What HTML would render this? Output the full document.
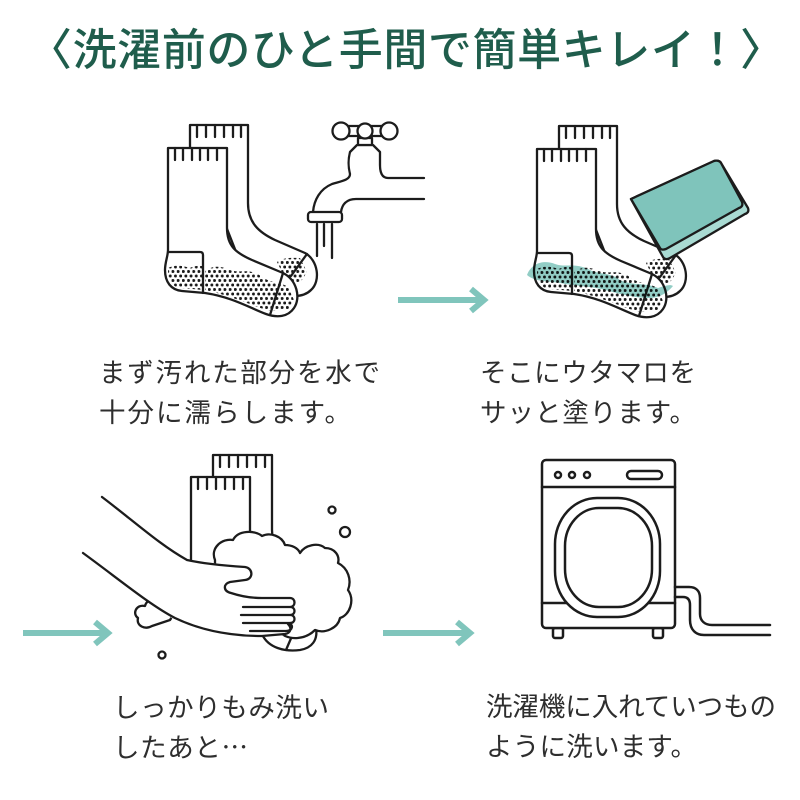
<!DOCTYPE html>
<html><head><meta charset="utf-8">
<style>
html,body{margin:0;padding:0;background:#fff;}
svg{display:block;}
text{font-family:"Liberation Sans","Noto Sans CJK JP",sans-serif;}
</style></head>
<body>
<svg width="800" height="800" viewBox="0 0 800 800" xmlns="http://www.w3.org/2000/svg">
<defs>
<pattern id="dots" width="5.2" height="9" patternUnits="userSpaceOnUse">
<circle cx="1.3" cy="1.5" r="1.5" fill="#1a1a1a"/>
<circle cx="3.9" cy="6" r="1.5" fill="#1a1a1a"/>
</pattern>
<g id="socks" stroke="#1c1c1c" stroke-width="2.3" stroke-linejoin="round" stroke-linecap="round">
 <path d="M190,148 V125 H248 V203 C248,222 258,232 275,240 L305,253 C318,260 321,281 311,290 C305,296 297,297 287,295 L240,262 L200,160 L190,148" fill="#fff"/>
 <path d="M197,125 V137 M206,125 V137 M215,125 V137 M224,125 V137 M233,125 V137 M241,125 V137" fill="none"/>
 <path d="M277,262 C284,257 292,258 300,258 L307,272 L300,283 L285,278 Z" fill="url(#dots)" stroke="none"/>
 <path d="M307,254 L291,276" fill="none"/>
 <path d="M168,148 H227 V228 C227,246 236,253 252,260 L283,273 C297,280 301,298 294,308 C288,317 277,318 266,314 C250,308 232,297 205,293 L182,291 C171,290 165,282 165,270 C165,262 168,256 168,250 Z" fill="#fff"/>
 <path d="M175,148 V160 M183,148 V160 M192,148 V160 M200,148 V160 M208,148 V160 M217,148 V160" fill="none"/>
 <path d="M168,268 C175,264 185,266 190,268 C195,265 200,266 203,266 L203,290 L182,288 C172,287 168,282 168,270 Z" fill="url(#dots)" stroke="none"/>
 <path d="M205,271 C213,265 222,266 230,270 C238,273 245,270 252,272 C260,274 262,278 270,281 C276,283 282,283 288,287 L294,300 L288,310 L270,311 C250,305 232,296 205,290 Z" fill="url(#dots)" stroke="none"/>
 <path d="M168,252 H200 Q203,252 203,255 V293" fill="none"/>
 <path d="M283,273 L270,315" fill="none"/>
</g>
</defs>

<!-- Title -->
<text x="28" y="65" font-size="44" font-weight="500" fill="#1f5d4c" textLength="756" lengthAdjust="spacing">〈洗濯前のひと手間で簡単キレイ！〉</text>

<!-- Panel 1 -->
<use href="#socks"/>
<g stroke="#1c1c1c" stroke-width="2.3" fill="#fff" stroke-linejoin="round" stroke-linecap="round">
 <path d="M424,178 H388 C381,178 380,170 380,165 L380,152 L373,145 H357 L350,152 C348,160 348,166 350,174 C350,180 342,181 332,184 C320,189 314,200 313,212 M424,199 H356 C346,199 342,205 341,212" fill="none"/>
 <rect x="358" y="138" width="14" height="7" fill="#fff"/>
 <path d="M348,126 H382 M348,136 H382" fill="none"/>
 <circle cx="341" cy="131" r="8.5"/>
 <circle cx="365" cy="131" r="7.5"/>
 <circle cx="389" cy="131" r="8.5"/>
 <rect x="308" y="212" width="34" height="10" rx="3"/>
 <path d="M317,224 V256 M324,224 V246 M332,224 V258" fill="none"/>
</g>

<!-- Panel 2 -->
<use href="#socks" transform="translate(369,1)"/>
<path d="M527,275 C532,262 545,260 555,264 C565,268 575,262 590,270 C600,275 610,272 620,280 C632,286 645,282 658,288 C665,286 670,284 673,286 C668,292 660,298 650,298 C635,298 620,294 605,290 C590,286 575,286 560,283 C548,281 535,282 527,275 Z" fill="#7fc4bb" opacity="0.85" style="mix-blend-mode:multiply"/>
<g stroke="#1c1c1c" stroke-width="2.3" stroke-linejoin="round">
 <path d="M631,199 L714,161 C717,160 720,161 721,163 L748,208 C749,211 748,213 745,214 L670,258 C667,260 664,259 663,257 Z" fill="#a9dbd3"/>
 <path d="M631,199 L714,161 C717,160 720,161 721,163 L742,202 C743,205 742,207 739,208 L666,249 C663,250 661,250 660,248 Z" fill="#7fc4bb"/>
</g>

<!-- Arrows -->
<g stroke="#80c5bc" stroke-width="6" fill="none" stroke-linecap="butt" stroke-linejoin="miter">
 <path d="M398,300 H483"/><path d="M471,289 L484,300 L471,311"/>
 <path d="M23,633 H107"/><path d="M95,622 L108,633 L95,644"/>
 <path d="M383,633 H469"/><path d="M457,622 L470,633 L457,644"/>
</g>

<!-- Panel 3 -->
<g stroke="#1c1c1c" stroke-width="2.3" stroke-linejoin="round" stroke-linecap="round">
 <path d="M213,560 V455 H272 V530 C272,540 276,548 290,560 L260,580 Z" fill="#fff"/>
 <path d="M220,455 V467 M229,455 V467 M238,455 V467 M247,455 V467 M256,455 V467 M265,455 V467" fill="none"/>
 <path d="M191,570 V477 H250 V570" fill="#fff"/>
 <path d="M198,477 V489 M207,477 V489 M216,477 V489 M225,477 V489 M234,477 V489 M243,477 V489" fill="none"/>
 <path d="M262,634 C268,648 285,652 300,650 C312,648 318,640 316,628 L290,630 Z" fill="#fff"/>
 <path d="M292,636 L286,650" fill="none"/>
 <path d="M215,560 C210,548 222,538 233,540 C238,530 255,530 262,536 C270,532 282,536 285,545 C292,545 298,548 300,553 C305,545 318,542 325,548 C335,548 340,556 338,563 C348,568 352,580 348,590 C355,600 350,615 340,618 C338,628 325,634 315,630 C305,640 290,640 282,634 L250,630 L215,600 Z" fill="#fff"/>
 <path d="M152,626 C145,630 136,626 138,618 C132,614 136,604 145,606 C147,598 158,597 162,604 C170,603 176,612 170,620 Z" fill="#fff"/>
 <path d="M102,497 C135,522 160,545 187,560 L245,567 C253,568 254,579 245,580 L230,582 C223,584 223,591 231,593 L247,598 L290,598 C298,598 300,630 290,634 L273,637 C250,637 225,635 205,630 C185,625 175,620 170,617 L83,553 Z" fill="#fff" stroke="none"/>
 <path d="M102,497 C135,522 160,545 187,560 C205,564 230,566 245,567 C253,568 254,579 245,580 L230,582 C223,584 223,591 231,593 C240,596 250,598 262,598 L290,598 C296,598 296,607 290,607 H243 M290,607 C296,607 296,615 290,615 H241 M290,615 C296,615 296,623 290,623 H243 M288,623 C294,624 293,631 286,631 H250" fill="none"/>
 <path d="M83,553 C120,580 150,605 175,618 C200,630 230,636 262,636 L285,634 C291,633 292,628 288,624" fill="none"/>
 <circle cx="332" cy="510" r="3.5" fill="none"/>
 <circle cx="345" cy="532" r="5" fill="none"/>
 <circle cx="162" cy="655" r="3.5" fill="none"/>
</g>

<!-- Panel 4 -->
<g stroke="#1c1c1c" stroke-width="2.5" stroke-linejoin="round" stroke-linecap="round" fill="none">
 <rect x="553" y="628" width="10" height="10" rx="2" fill="#fff"/>
 <rect x="653" y="628" width="10" height="10" rx="2" fill="#fff"/>
 <rect x="542" y="460" width="133" height="168" rx="4" fill="#fff"/>
 <line x1="542" y1="487" x2="675" y2="487"/>
 <line x1="542" y1="603" x2="675" y2="603"/>
 <circle cx="558" cy="475" r="3"/>
 <circle cx="572" cy="475" r="3"/>
 <circle cx="587" cy="475" r="3"/>
 <rect x="627" y="471" width="35" height="8" rx="4"/>
 <rect x="555" y="498" width="105" height="119" rx="42" ry="46" fill="#fff"/>
 <rect x="565" y="508" width="87" height="99" rx="34" ry="38"/>
 <path d="M675,587 H689 C696,587 700,591 700,598 V614 C700,621 705,625 712,625 H770"/>
 <path d="M675,597 H683 C688,597 690,600 690,605 V620 C690,630 696,635 704,635 H770"/>
</g>

<!-- Captions -->
<g fill="#2e2e2e" font-size="26.5">
 <text x="99" y="382" textLength="281" lengthAdjust="spacing">まず汚れた部分を水で</text>
 <text x="99" y="422" textLength="252" lengthAdjust="spacing">十分に濡らします。</text>
 <text x="480" y="382" textLength="216" lengthAdjust="spacing">そこにウタマロを</text>
 <text x="480" y="422" textLength="216" lengthAdjust="spacing">サッと塗ります。</text>
 <text x="113" y="717" textLength="216" lengthAdjust="spacing">しっかりもみ洗い</text>
 <text x="113" y="757" textLength="135" lengthAdjust="spacing" style="font-family:'Noto Sans CJK JP',sans-serif">したあと…</text>
 <text x="486" y="716" textLength="290" lengthAdjust="spacing">洗濯機に入れていつもの</text>
 <text x="486" y="756" textLength="211" lengthAdjust="spacing">ように洗います。</text>
</g>
</svg>
</body></html>
